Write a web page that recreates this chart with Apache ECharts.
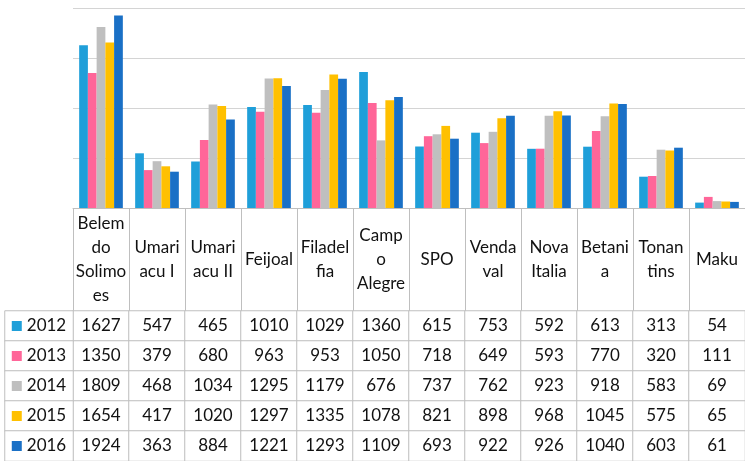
<!DOCTYPE html>
<html>
<head>
<meta charset="utf-8">
<script src="https://cdn.jsdelivr.net/npm/echarts@6/dist/echarts.min.js"></script>
<style>
  html, body { margin: 0; padding: 0; background: #fff; }
  #chart { width: 745px; height: 461px; }
</style>
</head>
<body>
<div id="chart"></div>
<script>
// category names as wrapped in the table header
var categories = ['Belem\ndo\nSolimo\nes', 'Umari\nacu I', 'Umari\nacu II', 'Feijoal', 'Filadel\nfia',
  'Camp\no\nAlegre', 'SPO', 'Venda\nval', 'Nova\nItalia', 'Betani\na', 'Tonan\ntins', 'Maku']
var years = ['2012', '2013', '2014', '2015', '2016']
var colors = ['#1f9fd9', '#ff6699', '#bfbfbf', '#ffc000', '#1a70c6']

var v2012 = [1627, 547, 465, 1010, 1029, 1360, 615, 753, 592, 613, 313, 54]
var v2013 = [1350, 379, 680, 963, 953, 1050, 718, 649, 593, 770, 320, 111]
var v2014 = [1809, 468, 1034, 1295, 1179, 676, 737, 762, 923, 918, 583, 69]
var v2015 = [1654, 417, 1020, 1297, 1335, 1078, 821, 898, 968, 1045, 575, 65]
var v2016 = [1924, 363, 884, 1221, 1293, 1109, 693, 922, 926, 1040, 603, 61]
var yTicks = [0, 500, 1000, 1500, 2000]

var values = [v2012, v2013, v2014, v2015, v2016]
var font = 'Lato'
var fontSize = 17
var border = '#bfbfbf'

var chart = echarts.init(document.getElementById('chart'))

var barSeries = years.map(function(y, i) {
  return {
    name: y,
    type: 'bar',
    xAxisIndex: 0,
    yAxisIndex: 0,
    data: values[i],
    barGap: 0,
    barCategoryGap: '22%',
    itemStyle: { color: colors[i] }
  }
})

// table cells
var cells = []
values.forEach(function(arr, r) {
  arr.forEach(function(v, c) {
    cells.push([c, r, v])
  })
})
var legendCells = years.map(function(y, r) { return [0, r, y] })
var rich = {}
colors.forEach(function(c, i) {
  rich['s' + i] = { width: 10, height: 10, backgroundColor: c }
  rich['t' + i] = { fontSize: fontSize, fontFamily: font, color: '#111', padding: [0, 0, 0, 5] }
})

chart.setOption({
  animation: false,
  grid: [
    { left: 73, top: 8, width: 678, height: 200 },
    { left: 73, top: 311, width: 678, height: 152 },
    { left: 5, top: 311, width: 68, height: 152 }
  ],
  xAxis: [
    {
      type: 'category',
      gridIndex: 0,
      data: categories,
      axisLine: { lineStyle: { color: border } },
      axisTick: { show: true, interval: 0, length: 103, lineStyle: { color: border } },
      axisLabel: {
        interval: 0,
        margin: 52,
        verticalAlign: 'middle',
        fontSize: fontSize,
        lineHeight: 24,
        fontFamily: font,
        color: '#111'
      }
    },
    {
      type: 'category',
      gridIndex: 1,
      data: categories,
      show: false
    },
    {
      type: 'category',
      gridIndex: 2,
      data: [''],
      show: false
    }
  ],
  yAxis: [
    {
      type: 'value',
      gridIndex: 0,
      min: yTicks[0],
      max: yTicks[yTicks.length - 1],
      interval: 500,
      axisLabel: { show: false },
      axisLine: { show: false },
      axisTick: { show: false },
      splitLine: { lineStyle: { color: '#d4d4d4' } }
    },
    {
      type: 'category',
      gridIndex: 1,
      data: years,
      inverse: true,
      show: false
    },
    {
      type: 'category',
      gridIndex: 2,
      data: years,
      inverse: true,
      show: false
    }
  ],
  series: barSeries.concat([
    {
      type: 'heatmap',
      xAxisIndex: 1,
      yAxisIndex: 1,
      data: cells,
      itemStyle: { color: '#fff', borderColor: border, borderWidth: 1 },
      label: {
        show: true,
        fontSize: fontSize,
        fontFamily: font,
        color: '#111',
        formatter: function(p) { return p.value[2] }
      },
      emphasis: { disabled: true }
    },
    {
      type: 'heatmap',
      xAxisIndex: 2,
      yAxisIndex: 2,
      data: legendCells,
      itemStyle: { color: '#fff', borderColor: border, borderWidth: 1 },
      label: {
        show: true,
        formatter: function(p) {
          var i = p.value[1]
          return '{s' + i + '|}{t' + i + '|' + p.value[2] + '}'
        },
        rich: rich
      },
      emphasis: { disabled: true }
    }
  ])
})
</script>
</body>
</html>
